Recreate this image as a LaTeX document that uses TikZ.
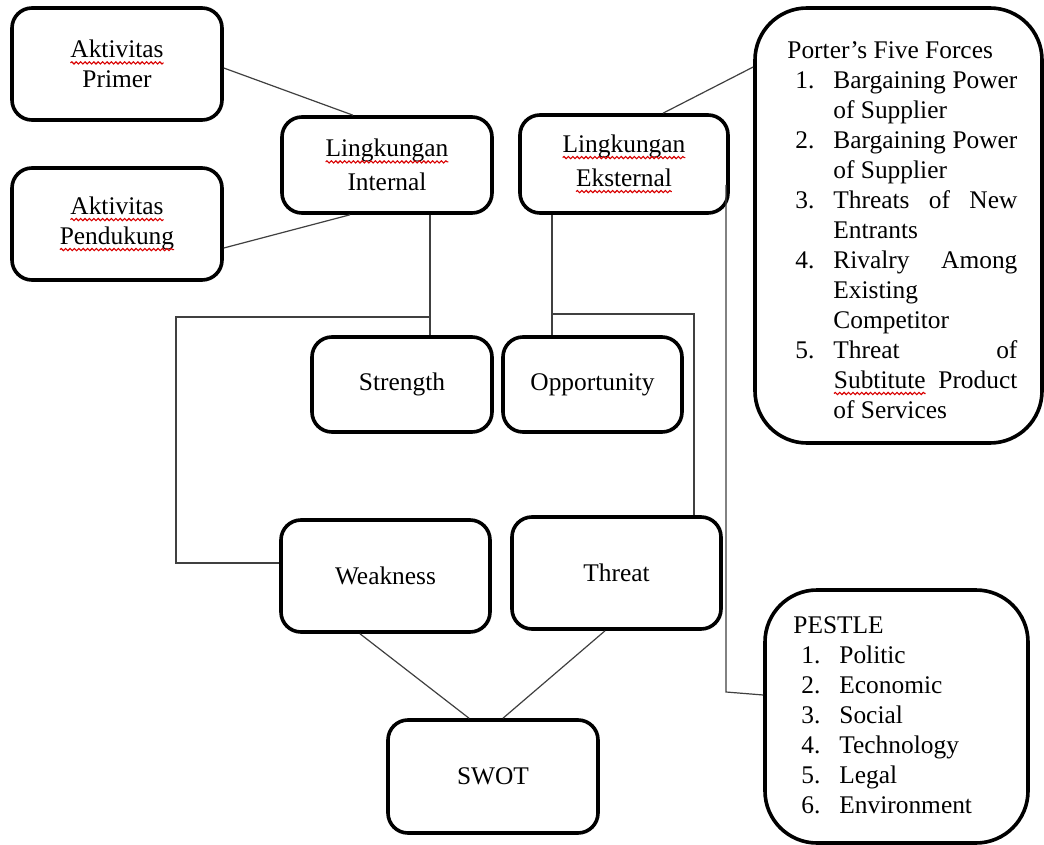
\documentclass[tikz,border=0pt]{standalone}
\usepackage{fontspec}
\setmainfont{Liberation Serif}
\usepackage{xcolor}
\usetikzlibrary{positioning,decorations.pathmorphing}

\newcommand\spellwave[1]{\tikz[baseline=(sw.base)]{%
  \node[draw=none, fill=none, inner sep=0pt, outer sep=0pt, minimum size=0pt, anchor=base] (sw) at (0,0) {#1};
  \draw[red!85!black, line width=0.55pt, sharp corners, decorate, decoration={snake, amplitude=0.55pt, segment length=2.2pt}]
    ([yshift=-2.6pt]sw.base west) -- ([yshift=-2.6pt]sw.base east);}}
\newcommand\jline[1]{\makebox[92pt][s]{#1}}
\newcommand\lline[1]{\makebox[92pt][l]{#1}}
\newcommand\numitem[2]{\hspace*{4pt}\makebox[19pt][l]{#1}#2}
\newcommand\contline[1]{\hspace*{23pt}#1}

\begin{document}
\begin{tikzpicture}[x=0.5pt, y=-0.5pt, font={\fontsize{12.7pt}{15pt}\selectfont},
  box/.style={draw, line width=1.8pt, rounded corners=10pt, align=center, inner sep=0pt},
  bigbox/.style={box, rounded corners=26pt},
  listtxt/.style={align=left, inner sep=0pt, anchor=north west},
  link/.style={line width=0.6pt, draw=black!75}]
\fill[white] (0,0) rectangle (1044,845);
\useasboundingbox (0,0) rectangle (1044,845);
% internal side
\node[box, minimum width=105pt, minimum height=56pt] (primer) at (117,64) {\spellwave{Aktivitas}\\Primer};
\node[box, minimum width=105pt, minimum height=56pt] (pendukung) at (117,224) {\spellwave{Aktivitas}\\\spellwave{Pendukung}};
\node[box, minimum width=105pt, minimum height=48pt] (internal) at (387,165) {\spellwave{Lingkungan}\\[2pt]Internal};
% external side
\node[box, minimum width=104pt, minimum height=49pt] (eksternal) at (624,164) {\spellwave{Lingkungan}\\[2pt]\spellwave{Eksternal}};
\node[bigbox, minimum width=143.5pt, minimum height=217.5pt] (porter) at (898.5,225.5) {};
\node[listtxt] (portertxt) at (787,41) {Porter’s Five Forces\\
  \numitem{1.}{\jline{Bargaining Power}}\\
  \contline{\lline{of Supplier}}\\
  \numitem{2.}{\jline{Bargaining Power}}\\
  \contline{\lline{of Supplier}}\\
  \numitem{3.}{\jline{Threats of New}}\\
  \contline{\lline{Entrants}}\\
  \numitem{4.}{\jline{Rivalry Among}}\\
  \contline{\lline{Existing}}\\
  \contline{\lline{Competitor}}\\
  \numitem{5.}{\jline{Threat \hfill of}}\\
  \contline{\jline{\spellwave{Subtitute} Product}}\\
  \contline{\lline{of Services}}};
% swot
\node[box, minimum width=90pt, minimum height=47.5pt] (strength) at (402,384.5) {Strength};
\node[box, minimum width=89.5pt, minimum height=47.5pt] (opportunity) at (592.5,384.5) {Opportunity};
\node[box, minimum width=104.5pt, minimum height=56pt] (weakness) at (385.5,576) {Weakness};
\node[box, minimum width=104.5pt, minimum height=56pt] (threat) at (616.5,573) {Threat};
\node[box, minimum width=105pt, minimum height=56.5pt] (swot) at (493,776.5) {SWOT};
\node[bigbox, minimum width=131.5pt, minimum height=126.5pt] (pestle) at (896.5,716.5) {};
\node[listtxt] (pestletxt) at (793,616) {PESTLE\\
  \numitem{1.}{Politic}\\
  \numitem{2.}{Economic}\\
  \numitem{3.}{Social}\\
  \numitem{4.}{Technology}\\
  \numitem{5.}{Legal}\\
  \numitem{6.}{Environment}};
% junctions
\coordinate (jin) at (430,317);
\coordinate (wcorner) at (176,563);
\coordinate (jex) at (552,314);
\coordinate (ptop) at (726,185);
\coordinate (pcorner) at (726,692);
% connectors
\draw[link] ([yshift=-2pt]primer.east) -- ([xshift=-17pt]internal.north);
\draw[link] ([yshift=-12pt]pendukung.east) -- ([xshift=-18.5pt]internal.south);
\draw[link] (internal.south -| jin) -- (strength.north -| jin);
\draw[link] (jin) -| (wcorner) -- ([yshift=6.5pt]weakness.west);
\draw[link] (eksternal.south -| jex) -- (opportunity.north -| jex);
\draw[link] (jex) -| ([xshift=38.75pt]threat.north);
\draw[link] ([xshift=19.5pt]eksternal.north) -- ([yshift=79.25pt]porter.west);
\draw[link] (ptop) -- (pcorner) -- ([yshift=10.75pt]pestle.west);
\draw[link] ([xshift=-12.75pt]weakness.south) -- ([xshift=-12pt]swot.north);
\draw[link] ([xshift=-5.75pt]threat.south) -- ([xshift=5pt]swot.north);
\end{tikzpicture}
\end{document}
